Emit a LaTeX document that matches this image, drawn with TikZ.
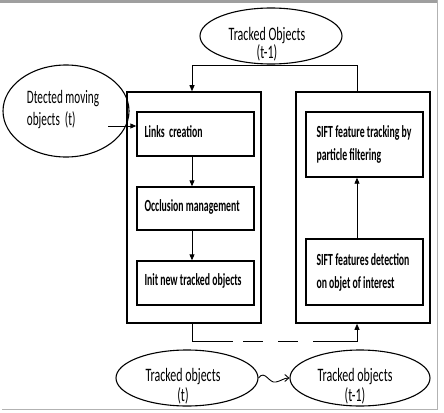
\documentclass[tikz,border=0pt]{standalone}
\usepackage{fontspec}
\usepackage{graphicx}
\setmainfont{Carlito}
\newcommand{\boxsq}[1]{\scalebox{0.575}[1]{#1}}
\newcommand{\ellsq}[1]{\scalebox{0.63}[1]{#1}}
\newcommand{\dmsq}[1]{\scalebox{0.59}[1]{#1}}
\usetikzlibrary{arrows.meta,shapes.geometric}
\begin{document}
\begin{tikzpicture}[x=1pt,y=-1pt,
  outerbox/.style={draw, line width=1.6pt, inner sep=0pt, minimum width=134pt, minimum height=231pt},
  stepbox/.style={draw, line width=1.4pt, inner sep=0pt, minimum width=117pt},
  steptext/.style={inner sep=0pt, align=left, anchor=west,
    font={\bfseries\fontsize{17pt}{23pt}\selectfont}},
  ell/.style={draw, ellipse, line width=1.1pt, inner sep=0pt},
  elltext/.style={inner sep=0pt, font={\fontsize{19pt}{20pt}\selectfont}},
  conn/.style={line width=0.9pt},
  arr/.style={conn, -{Triangle[length=6pt,width=5pt]}}]
\useasboundingbox (0,0) rectangle (444,412);
% frame
\draw[gray!75, line width=3pt] (0,1.5) -- (437,1.5);
\draw[gray!60, line width=1pt] (437,0) -- (437,409) -- (2,409);
% big boxes
\node[outerbox] (lbox) at (194,207.5) {};
\node[outerbox] (rbox) at (363,207.5) {};
% inner steps
\node[stepbox, minimum height=44pt] (links) at (195.5,134) {};
\node[stepbox, minimum height=43pt] (occ) at (195.5,208.5) {};
\node[stepbox, minimum height=44pt] (init) at (195.5,283) {};
\node[stepbox, minimum height=65pt] (trk) at (364.5,144.5) {};
\node[stepbox, minimum height=66pt] (det) at (364.5,272) {};
\node[steptext] (linkst) at ([xshift=8pt,yshift=2pt]links.west) {\boxsq{Links\ \ creation}};
\node[steptext] (occt) at ([xshift=8pt,yshift=2pt]occ.west) {\boxsq{Occlusion management}};
\node[steptext] (initt) at ([xshift=8pt,yshift=2pt]init.west) {\boxsq{Init new tracked objects}};
\node[steptext] (trkt) at ([xshift=11pt]trk.west) {\boxsq{SIFT feature tracking by}\\\boxsq{particle filtering}};
\node[steptext] (dett) at ([xshift=11pt]det.west) {\boxsq{SIFT features detection}\\\boxsq{on objet of interest}};
% ellipses
\node[ell, minimum width=142pt, minimum height=56pt] (top) at (271,36) {};
\node[elltext, align=center, font={\fontsize{19pt}{18pt}\selectfont}] (topt) at (267,44) {\ellsq{Tracked Objects}\\\ellsq{(t-1)}};
\node[ell, minimum width=126pt, minimum height=92pt] (dm) at (66,111) {};
\node[elltext, align=left, font={\fontsize{19pt}{22pt}\selectfont}] (dmt) at (63,110) {\dmsq{Dtected moving}\\\dmsq{objects\ \ (t)}};
\node[ell, minimum width=142pt, minimum height=56pt] (tl) at (187,378) {};
\node[elltext, align=center] (tlt) at (183,386) {\ellsq{Tracked objects}\\\ellsq{(t)}};
\node[ell, minimum width=140pt, minimum height=56pt] (tr) at (360,378) {};
\node[elltext, align=center] (trt) at (355,386) {\ellsq{Tracked objects}\\\ellsq{(t-1)}};
% connector x positions
\coordinate (xa) at (192,0);
\coordinate (xb) at (357,0);
% connectors
\draw[arr] (rbox.north -| xb) -- ++(0,-26) -| (lbox.north -| xa);
\draw[arr] (links.south -| xa) -- (occ.north -| xa);
\draw[arr] (occ.south -| xa) -- (init.north -| xa);
\draw[arr] (det.north -| xb) -- (trk.south -| xb);
\coordinate (da) at (108,126);
\draw[arr] (da) -- (da -| links.west);
\coordinate (d1) at (233,341);
\coordinate (d2) at (243,341);
\coordinate (d3) at (298,341);
\coordinate (d4) at (313,341);
\draw[conn] (lbox.south -| xa) |- (d1);
\draw[conn, dash pattern=on 20pt off 15pt] (d2) -- (d3);
\draw[arr] (d4) -| (rbox.south -| xb);
\draw[conn, -{Straight Barb[length=4pt,width=7pt]}] (tl.east) .. controls (265,369) and (269,384) .. (276,382) .. controls (281,381) and (284,378) .. (tr.west);
\end{tikzpicture}
\end{document}
